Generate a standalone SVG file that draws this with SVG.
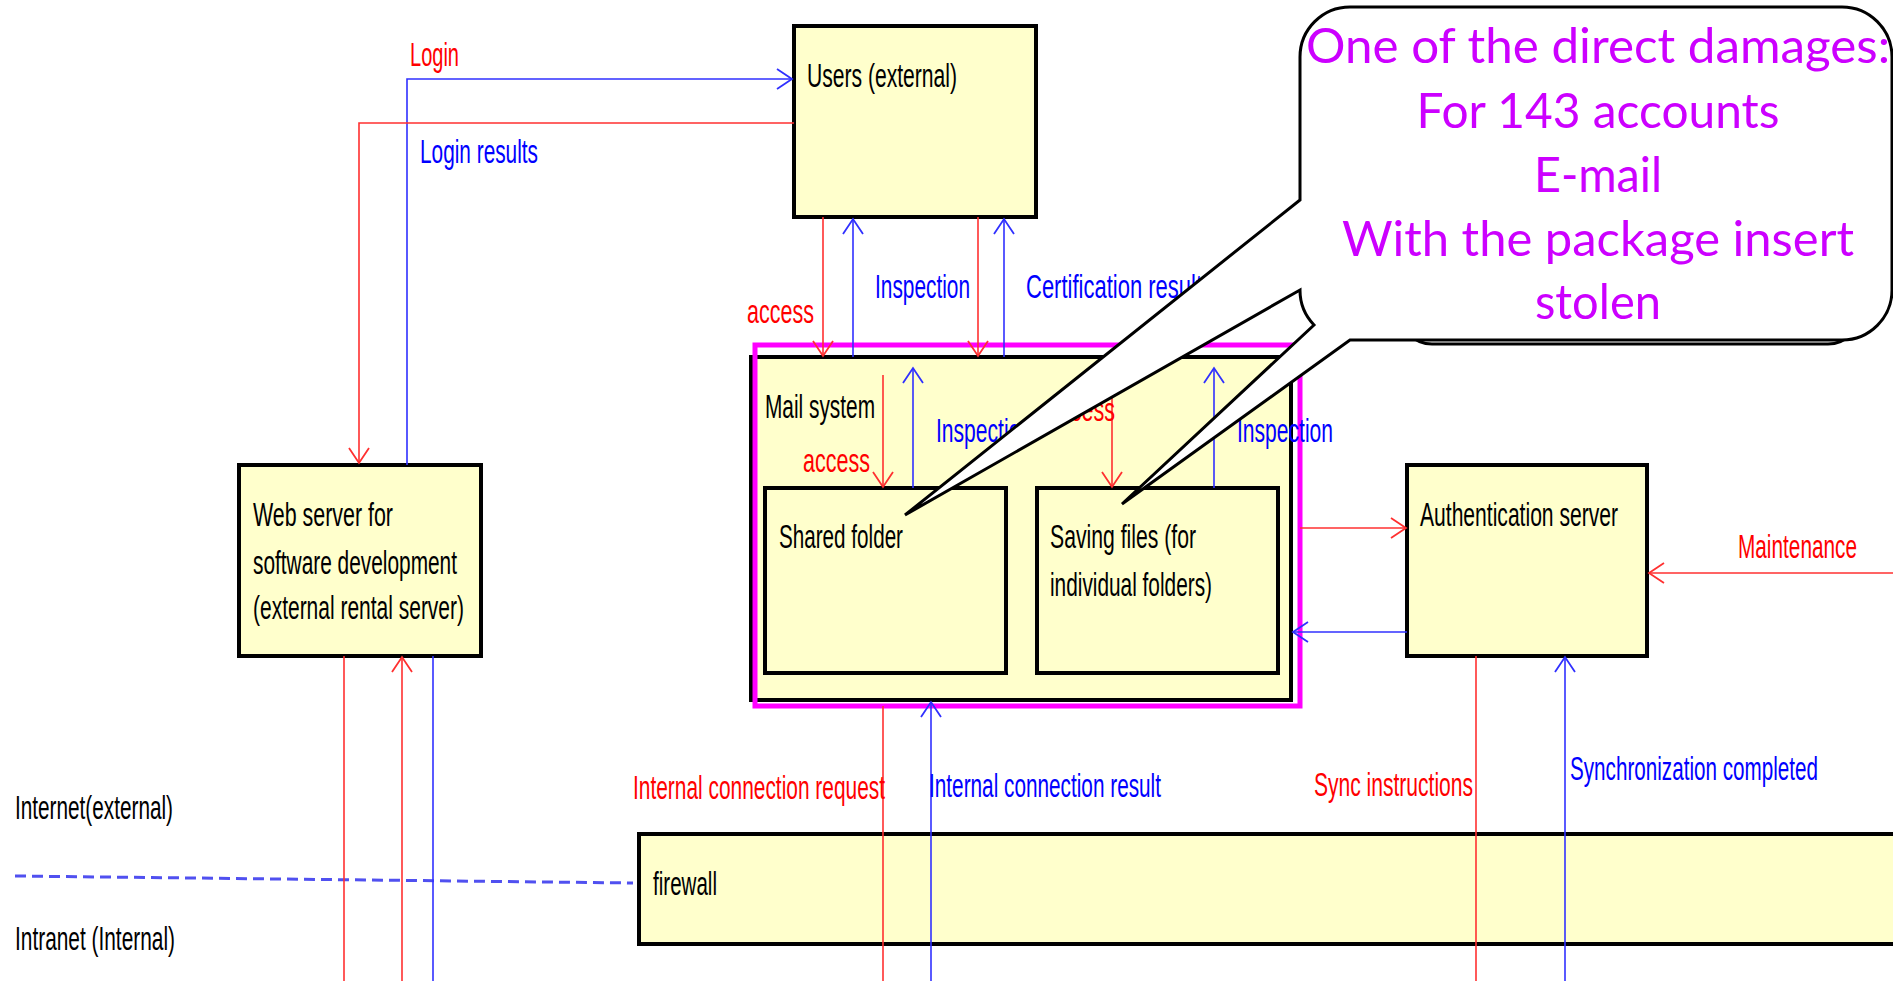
<svg xmlns="http://www.w3.org/2000/svg" width="1893" height="981" viewBox="0 0 1893 981">
<style>
.box{fill:#FFFFCC;stroke:#000;stroke-width:4}
.t{font-family:"Liberation Sans Narrow","Liberation Sans",Arial,sans-serif;font-size:34px;fill:#000}
.r{fill:#FF0000}
.b{fill:#0000FF}
.lr{stroke:#FF3030;stroke-width:1.6;fill:none}
.lb{stroke:#3030FF;stroke-width:1.6;fill:none}
.call{font-family:Lato,"Open Sans",sans-serif;font-size:49px;fill:#CC00FF;text-anchor:middle}
</style>
<defs>
<marker id="ar" markerUnits="userSpaceOnUse" markerWidth="20" markerHeight="24" viewBox="0 0 20 24" refX="17" refY="12" orient="auto">
<path d="M2,2 L17,12 L2,22" fill="none" stroke="#FF3030" stroke-width="1.8"/>
</marker>
<marker id="ab" markerUnits="userSpaceOnUse" markerWidth="20" markerHeight="24" viewBox="0 0 20 24" refX="17" refY="12" orient="auto">
<path d="M2,2 L17,12 L2,22" fill="none" stroke="#3030FF" stroke-width="1.8"/>
</marker>
</defs>
<rect width="1893" height="981" fill="#fff"/>

<g id="boundary">
<path d="M15,876 L633,883" stroke="#5050F0" stroke-width="3" stroke-dasharray="11,6" fill="none"/>
<text class="t" x="15" y="819" textLength="158" lengthAdjust="spacingAndGlyphs">Internet(external)</text>
<text class="t" x="15" y="950" textLength="160" lengthAdjust="spacingAndGlyphs">Intranet (Internal)</text>
</g>

<g id="users">
<rect class="box" x="794" y="26" width="242" height="191"/>
<text class="t" x="807" y="87" textLength="150" lengthAdjust="spacingAndGlyphs">Users (external)</text>
</g>

<g id="webserver">
<rect class="box" x="239" y="465" width="242" height="191"/>
<text class="t" x="253" y="526" textLength="140" lengthAdjust="spacingAndGlyphs">Web server for</text>
<text class="t" x="253" y="574" textLength="204" lengthAdjust="spacingAndGlyphs">software development</text>
<text class="t" x="253" y="619" textLength="211" lengthAdjust="spacingAndGlyphs">(external rental server)</text>
</g>

<g id="mailsystem">
<rect class="box" x="751" y="357" width="540" height="343"/>
<rect x="755" y="345" width="545" height="361" fill="none" stroke="#FF00FF" stroke-width="5"/>
<text class="t" x="765" y="418" textLength="110" lengthAdjust="spacingAndGlyphs">Mail system</text>
</g>

<g id="sharedfolder">
<rect class="box" x="765" y="488" width="241" height="185"/>
<text class="t" x="779" y="548" textLength="124" lengthAdjust="spacingAndGlyphs">Shared folder</text>
</g>

<g id="savingfiles">
<rect class="box" x="1037" y="488" width="241" height="185"/>
<text class="t" x="1050" y="548" textLength="146" lengthAdjust="spacingAndGlyphs">Saving files (for</text>
<text class="t" x="1050" y="596" textLength="162" lengthAdjust="spacingAndGlyphs">individual folders)</text>
</g>

<g id="authserver">
<rect class="box" x="1407" y="465" width="240" height="191"/>
<text class="t" x="1420" y="526" textLength="198" lengthAdjust="spacingAndGlyphs">Authentication server</text>
</g>

<g id="firewall">
<rect class="box" x="639" y="834" width="1270" height="110"/>
<text class="t" x="653" y="895" textLength="64" lengthAdjust="spacingAndGlyphs">firewall</text>
</g>

<g id="connectors">
<path class="lb" d="M407,465 V79 H792" marker-end="url(#ab)"/>
<path class="lr" d="M794,123 H359 V463" marker-end="url(#ar)"/>
<path class="lr" d="M823,217 V356" marker-end="url(#ar)"/>
<path class="lb" d="M853,357 V219" marker-end="url(#ab)"/>
<path class="lr" d="M978,217 V356" marker-end="url(#ar)"/>
<path class="lb" d="M1004,357 V219" marker-end="url(#ab)"/>
<path class="lr" d="M883,375 V487" marker-end="url(#ar)"/>
<path class="lb" d="M913,488 V368" marker-end="url(#ab)"/>
<path class="lr" d="M1112,395 V487" marker-end="url(#ar)"/>
<path class="lb" d="M1214,488 V368" marker-end="url(#ab)"/>
<path class="lr" d="M1300,528 H1406" marker-end="url(#ar)"/>
<path class="lb" d="M1407,632 H1293" marker-end="url(#ab)"/>
<path class="lr" d="M1893,573 H1649" marker-end="url(#ar)"/>
<path class="lr" d="M344,656 V981"/>
<path class="lr" d="M402,981 V657" marker-end="url(#ar)"/>
<path class="lb" d="M433,656 V981"/>
<path class="lr" d="M883,706 V981"/>
<path class="lb" d="M931,981 V702" marker-end="url(#ab)"/>
<path class="lr" d="M1476,656 V981"/>
<path class="lb" d="M1565,981 V657" marker-end="url(#ab)"/>
</g>

<g id="labels">
<text class="t r" x="410" y="66" textLength="49" lengthAdjust="spacingAndGlyphs">Login</text>
<text class="t b" x="420" y="163" textLength="118" lengthAdjust="spacingAndGlyphs">Login results</text>
<text class="t r" x="747" y="323" textLength="67" lengthAdjust="spacingAndGlyphs">access</text>
<text class="t b" x="875" y="298" textLength="95" lengthAdjust="spacingAndGlyphs">Inspection</text>
<text class="t b" x="1026" y="298" textLength="176" lengthAdjust="spacingAndGlyphs">Certification result</text>
<text class="t r" x="803" y="472" textLength="67" lengthAdjust="spacingAndGlyphs">access</text>
<text class="t b" x="936" y="442" textLength="96" lengthAdjust="spacingAndGlyphs">Inspection</text>
<text class="t r" x="1048" y="421" textLength="67" lengthAdjust="spacingAndGlyphs">access</text>
<text class="t b" x="1237" y="442" textLength="96" lengthAdjust="spacingAndGlyphs">Inspection</text>
<text class="t r" x="1738" y="558" textLength="119" lengthAdjust="spacingAndGlyphs">Maintenance</text>
<text class="t r" x="633" y="799" textLength="252" lengthAdjust="spacingAndGlyphs">Internal connection request</text>
<text class="t b" x="929" y="797" textLength="232" lengthAdjust="spacingAndGlyphs">Internal connection result</text>
<text class="t r" x="1314" y="796" textLength="159" lengthAdjust="spacingAndGlyphs">Sync instructions</text>
<text class="t b" x="1570" y="780" textLength="248" lengthAdjust="spacingAndGlyphs">Synchronization completed</text>
</g>

<g id="callout">
<rect x="1400" y="250" width="460" height="94" rx="32" fill="#fff" stroke="#000" stroke-width="3"/>
<path d="M1350,7 H1842 A50,50 0 0 1 1892,57 V290 A50,50 0 0 1 1842,340 H1350 L1122,504 L1314,325 A50,50 0 0 1 1300,290 L905,515 L1300,200 V57 A50,50 0 0 1 1350,7 Z" fill="#fff" stroke="#000" stroke-width="3" stroke-linejoin="miter"/>
<text class="call" x="1598" y="63" textLength="584" lengthAdjust="spacingAndGlyphs">One of the direct damages:</text>
<text class="call" x="1598" y="128" textLength="363" lengthAdjust="spacingAndGlyphs">For 143 accounts</text>
<text class="call" x="1598" y="192" textLength="128" lengthAdjust="spacingAndGlyphs">E-mail</text>
<text class="call" x="1598" y="256" textLength="512" lengthAdjust="spacingAndGlyphs">With the package insert</text>
<text class="call" x="1598" y="319" textLength="126" lengthAdjust="spacingAndGlyphs">stolen</text>
</g>
</svg>
